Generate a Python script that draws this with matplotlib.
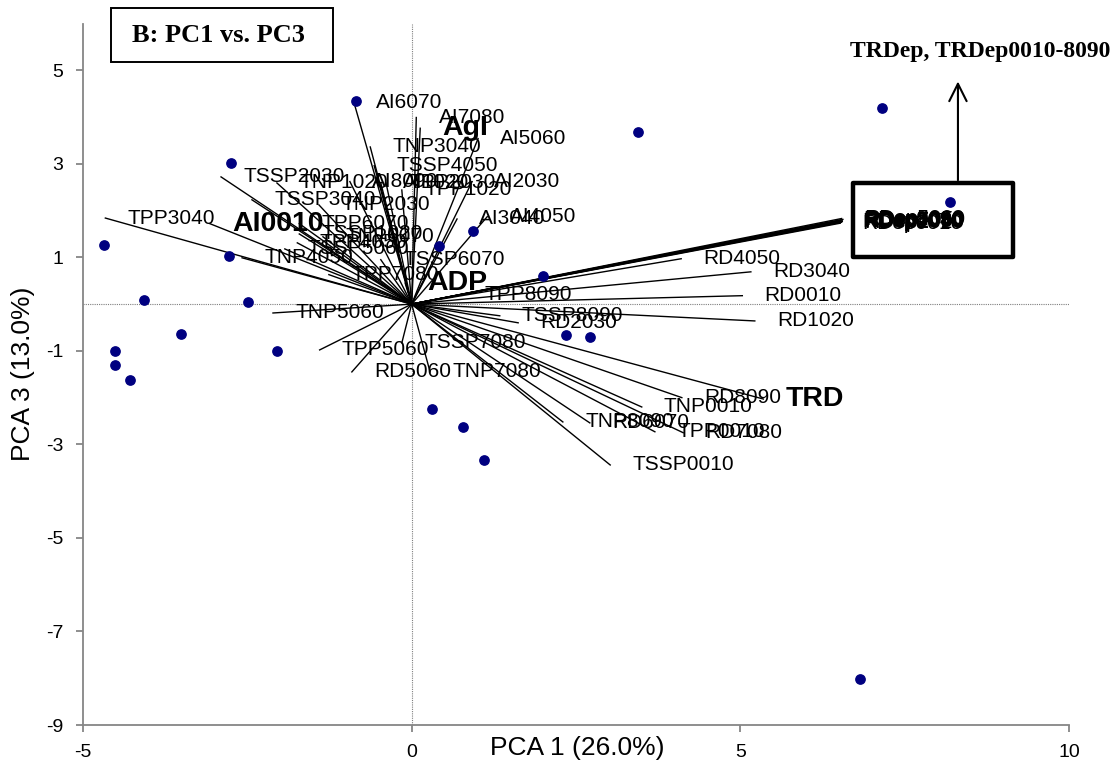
import matplotlib
matplotlib.use("Agg")
import matplotlib.pyplot as plt
from matplotlib.patches import Rectangle

plt.rcParams['font.family'] = ['Liberation Sans', 'DejaVu Sans']
plt.rcParams['axes.unicode_minus'] = False

# scores (sites)
score_x = [-0.85, -2.75, -4.68, -2.78, -4.07, -2.49, -3.51, -4.51, -4.51, -4.29,
           -2.05, 0.41, 0.93, 2.00, 3.44, 7.15, 8.19, 2.35, 2.71, 0.31,
           0.78, 1.10, 6.82]
score_y = [4.35, 3.02, 1.27, 1.03, 0.09, 0.05, -0.63, -1.00, -1.30, -1.62,
           -1.00, 1.25, 1.56, 0.60, 3.68, 4.20, 2.19, -0.66, -0.70, -2.24,
           -2.63, -3.33, -8.02]

# loadings (variables)
load_names = ['AI6070', 'AI7080', 'AgI', 'AI5060', 'TNP3040', 'TSSP4050', 'TNP1020',
              'AI8090', 'AI1020', 'TPP2030', 'AI2030', 'TPP1020', 'TSSP2030', 'TSSP3040',
              'TNP2030', 'TPP6070', 'TSSP1020', 'TNP6070', 'TPP4050', 'TSSP5060',
              'AI0010', 'TPP3040', 'TNP4050', 'TPP7080', 'TSSP6070', 'AI3040', 'AI4050',
              'ADP', 'TPP8090', 'RD4050', 'RD3040', 'RD0010', 'RD1020', 'TSSP8090',
              'RD2030', 'TNP5060', 'TPP5060', 'RD5060', 'TSSP7080', 'TNP7080', 'RD8090',
              'TRD', 'TNP0010', 'TNP8090', 'RD6070', 'TPP0010', 'RD7080', 'TSSP0010',
              'RDep0010', 'RDep1020', 'RDep2030', 'RDep3040', 'RDep4050', 'RDep5060',
              'RDep6070', 'RDep7080', 'RDep8090']
load_x = [-0.88, 0.07, 0.13, 1.01, -0.63, -0.57, -2.05,
          -0.94, -0.47, -0.39, 0.92, -0.15, -2.90, -2.43,
          -1.41, -1.71, -1.71, -1.35, -1.74, -1.93,
          -3.07, -4.66, -2.58, -1.26, -0.47, 0.69, 1.15,
          -0.10, 0.77, 4.10, 5.16, 5.03, 5.22, 1.34,
          1.62, -2.11, -1.40, -0.91, -0.15, 0.28, 4.11,
          5.35, 3.50, 2.30, 2.71, 3.70, 4.13, 3.02,
          6.52, 6.54, 6.55, 6.53, 6.56, 6.54, 6.52, 6.55, 6.53]
load_y = [4.32, 3.99, 3.76, 3.54, 3.36, 2.96, 2.59,
          2.62, 2.59, 2.59, 2.62, 2.44, 2.72, 2.23,
          2.12, 1.72, 1.50, 1.44, 1.31, 1.18,
          1.72, 1.84, 0.99, 0.63, 0.95, 1.82, 1.87,
          0.45, 0.20, 0.97, 0.69, 0.18, -0.36, -0.25,
          -0.40, -0.19, -0.98, -1.45, -0.83, -1.45, -2.00,
          -2.03, -2.20, -2.52, -2.54, -2.73, -2.75, -3.44,
          1.73, 1.75, 1.77, 1.79, 1.81, 1.83, 1.76, 1.78, 1.80]
bold_names = ['AgI', 'AI0010', 'ADP', 'TRD']

fig = plt.figure(figsize=(11.2, 7.63), dpi=100)
ax = fig.add_axes([0.0741, 0.0498, 0.8804, 0.9194])

ax.set_xlim(-5, 10)
ax.set_ylim(-9, 6)
ax.set_xticks([-5, 0, 5, 10])
ax.set_yticks(range(-9, 6, 2))
for s in ['top', 'right']:
    ax.spines[s].set_visible(False)
for s in ['left', 'bottom']:
    ax.spines[s].set_color('#868686')
    ax.spines[s].set_linewidth(1.3)
ax.tick_params(direction='out', length=5, width=1.3, color='#868686',
               labelsize=14, pad=9)

# origin cross
ax.axhline(0, color='#7f7f7f', lw=0.8, ls=(0, (1, 1)), zorder=1)
ax.axvline(0, color='#7f7f7f', lw=0.8, ls=(0, (1, 1)), zorder=1)

# loading vectors + labels
for name, lx, ly in zip(load_names, load_x, load_y):
    ax.plot([0, lx], [0, ly], color='black', lw=1.0, zorder=2)
    if name in bold_names:
        ax.annotate(name, (lx, ly), xytext=(16, 0), textcoords='offset points',
                    ha='left', va='center', fontsize=20.5, fontweight='bold')
    else:
        ax.annotate(name, (lx, ly), xytext=(16, 0), textcoords='offset points',
                    ha='left', va='center', fontsize=15)

ax.scatter(score_x, score_y, s=45, color='#000080', zorder=4)

# TRDep group box + arrow note
ax.add_patch(Rectangle((6.71, 1.01), 2.43, 1.58, fill=False, lw=3.2,
                       ec='black', joinstyle='round', zorder=3))
ax.annotate('', xy=(8.31, 4.82), xytext=(8.31, 2.59),
            arrowprops=dict(arrowstyle='->,head_length=0.5,head_width=0.25',
                            lw=1.5, color='black', mutation_scale=25))
ax.text(8.65, 5.40, 'TRDep, TRDep0010-8090', family='Liberation Serif',
        weight='bold', size=17, ha='center', va='center', clip_on=False)

# panel title
fig.add_artist(Rectangle((110.7 / 1120, 1 - 62.3 / 763), 222.6 / 1120, 54 / 763,
                         transform=fig.transFigure, fill=False, lw=1.4, ec='black'))
fig.text(0.1948, 0.954, 'B: PC1 vs. PC3', family='Liberation Serif',
         weight='bold', size=19, ha='center', va='center')

ax.set_xlabel('PCA 1 (26.0%)', fontsize=19)
ax.xaxis.set_label_coords(0.501, -0.033)
ax.xaxis.label.set_va('center')
ax.set_ylabel('PCA 3 (13.0%)', fontsize=19)
ax.yaxis.set_label_coords(-0.061, 0.5)
ax.yaxis.label.set_va('center')

fig.savefig('out.png', dpi=100)
